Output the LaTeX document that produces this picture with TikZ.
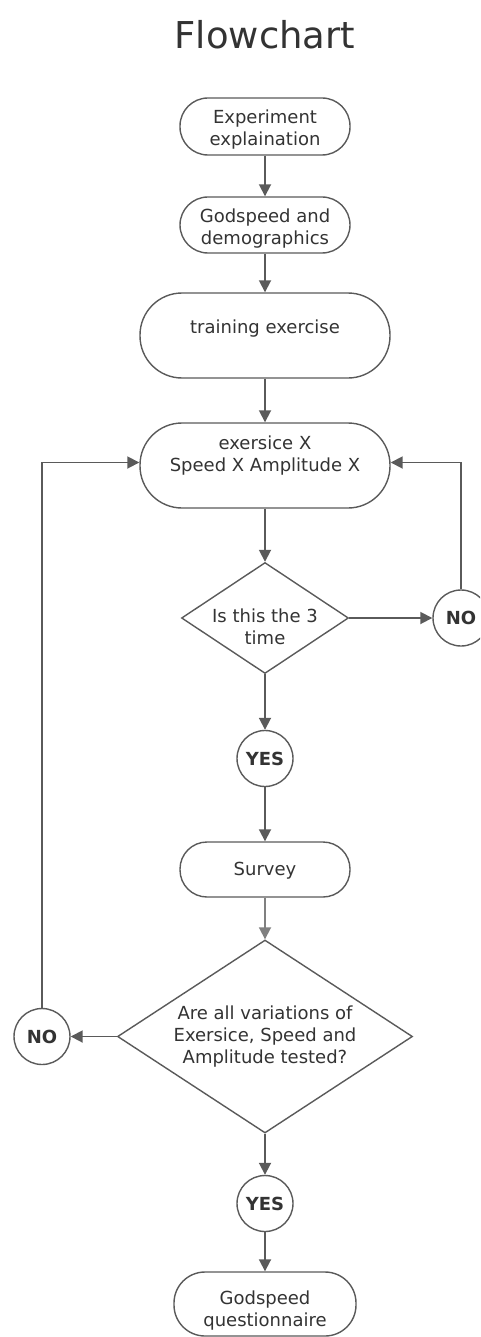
\documentclass[tikz,border=0pt]{standalone}
\usepackage{fontspec}
\setmainfont{DejaVu Sans}
\usetikzlibrary{arrows.meta,shapes.geometric}
\definecolor{linec}{HTML}{5A5A5A}
\definecolor{txtc}{HTML}{333333}
\definecolor{lightline}{HTML}{808080}
\begin{document}
\begin{tikzpicture}[x=1pt,y=-1pt,
  every node/.style={text=txtc,font=\fontsize{18}{22}\selectfont},
  pill/.style={draw=linec,line width=1.4pt,fill=white,align=center,inner sep=0pt},
  dia/.style={diamond,draw=linec,line width=1.4pt,fill=white,inner sep=0pt,aspect=1.5},
  ans/.style={circle,draw=linec,line width=1.4pt,fill=white,minimum size=56pt,inner sep=0pt,font=\fontsize{18}{22}\selectfont\bfseries},
  flow/.style={draw=linec,line width=1.8pt,-{Triangle[length=12pt,width=12pt]}},
]
\useasboundingbox (0,0) rectangle (480,1337);
\begin{scope}
\clip (0,0) rectangle (480,1337);
\node[font=\fontsize{37}{40}\selectfont] (title) at (265,35) {Flowchart};

\node[pill,minimum width=170pt,minimum height=57pt,rounded corners=28pt] (exp) at (265,126.5) {};
\node[align=center] (expt) at (265,130) {Experiment\\explaination};
\node[pill,minimum width=170pt,minimum height=56pt,rounded corners=28pt] (god) at (265,225) {};
\node[align=center] (godt) at (265,229) {Godspeed and\\demographics};
\node[pill,minimum width=250pt,minimum height=85pt,rounded corners=42pt] (train) at (265,335.5) {};
\node (traint) at (265,329) {training exercise};
\node[pill,minimum width=250pt,minimum height=85pt,rounded corners=42pt] (ex) at (265,465.5) {};
\node[align=center] (ext) at (265,456) {exersice X\\Speed X Amplitude X};

\node[dia,minimum width=167pt,minimum height=111pt] (d1) at (265,618) {};
\node[align=center] (d1t) at (265,627) {Is this the 3\\time};
\node[ans] (no1) at (461,618) {NO};
\node[ans] (yes1) at (265,758.5) {YES};

\node[pill,minimum width=170pt,minimum height=55pt,rounded corners=27pt] (survey) at (265,869.5) {};
\node (surveyt) at (265,871) {Survey};

\node[dia,minimum width=295pt,minimum height=193pt] (d2) at (265,1036.5) {};
\node[align=center] (d2t) at (265,1037) {Are all variations of\\Exersice, Speed and\\Amplitude tested?};
\node[ans] (no2) at (42,1036.5) {NO};
\node[ans] (yes2) at (265,1203.5) {YES};

\node[pill,minimum width=182pt,minimum height=64pt,rounded corners=31pt] (gq) at (265,1304) {};
\node[align=center] (gqt) at (265,1311) {Godspeed\\questionnaire};

\draw[flow] (exp.south) -- (god.north);
\draw[flow] (god.south) -- (train.north);
\draw[flow] (train.south) -- (ex.north);
\draw[flow] (ex.south) -- (d1.north);
\draw[flow] (d1.east) -- (no1.west);
\draw[flow] (no1.north) |- ([yshift=3pt]ex.east);
\draw[flow] (d1.south) -- (yes1.north);
\draw[flow] (yes1.south) -- (survey.north);
\draw[flow,draw=lightline] (survey.south) -- (d2.north);
\draw[flow] (d2.west) -- (no2.east);
\draw[flow] (no2.north) |- ([yshift=3pt]ex.west);
\draw[flow] (d2.south) -- (yes2.north);
\draw[flow] (yes2.south) -- (gq.north);
\end{scope}
\end{tikzpicture}
\end{document}
